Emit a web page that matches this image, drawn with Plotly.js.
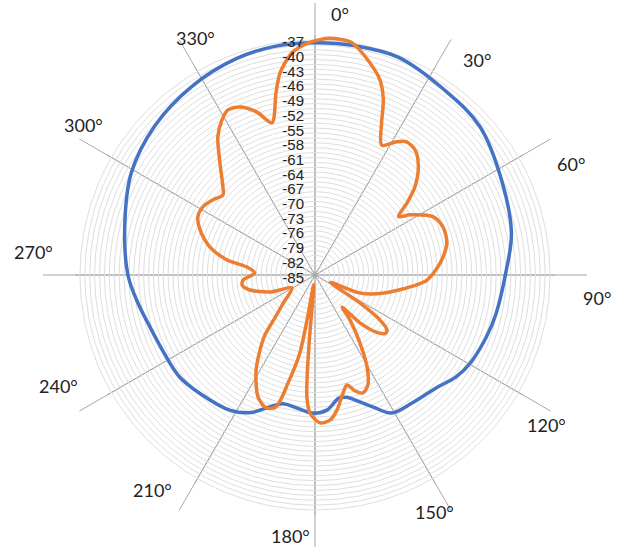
<!DOCTYPE html>
<html><head><meta charset="utf-8">
<script src="https://cdn.plot.ly/plotly-3.0.1.min.js"></script>
<style>html,body{margin:0;padding:0;background:#fff;overflow:hidden}</style>
</head><body><div id="chart" style="width:628px;height:553px"></div>
<script>
// ---- data ----
const blueTheta = [0,10,21,35,48,64,78,89,102,110,120,126,133,143,151,156,160.5,165.5,169,175,181,188,194,199,205,212,224,233,243,254,261,270,285,299,313,327,340,350,360];
const blueR = [-37.6,-37.5,-37.4,-38.9,-39.7,-42.4,-44.0,-46.0,-47.2,-47.8,-48.6,-49.5,-51.2,-52.2,-52.8,-55.4,-57.5,-59.2,-59.4,-57.3,-56.8,-57.6,-57.9,-56.5,-54.0,-52.4,-51.3,-50.4,-50.3,-49.5,-48.4,-46.8,-44.8,-42.1,-40.3,-39.0,-38.0,-37.6,-37.6];

const orangeTheta = [0,3,6,9.1,13.8,18.4,21.3,23.7,27.2,31.5,34.5,38.7,43.6,48.6,52,55,57.7,63.8,69.4,76.4,84.5,92.6,95.7,104.6,111.8,115.2,121.9,124.7,127.4,130,133,136.8,139.8,142.1,146.5,150.5,154.3,157.9,161,163.8,166.7,170.7,174.1,178.1,182.1,183.8,184.4,185,187.5,190,191,194,196.5,200.2,205,211.8,219.4,223.2,228.6,240.5,249.3,257,262.2,266,271.9,276.7,279.7,284.9,291.4,296.4,301.3,306.3,311,313.7,319.7,324.9,329,332.2,335.9,340.4,344.2,347.9,350.2,354.1,358.3,360];
const orangeR = [-37.2,-36.6,-36.6,-37.0,-39.8,-43.0,-46.6,-51.2,-55.2,-53.1,-52.0,-52.3,-54.4,-57.8,-61.2,-64.2,-62.0,-58.1,-57.1,-57.3,-59.3,-62.1,-64.3,-70.4,-75.1,-81.5,-74.2,-68.9,-66.5,-66.4,-67.9,-71.6,-76.4,-73.4,-68.4,-63.4,-60.1,-59.0,-60.0,-61.6,-60.2,-57.1,-55.2,-54.8,-56.8,-60.0,-64.0,-72.3,-83.0,-75.6,-68.8,-62.3,-56.9,-56.1,-57.5,-62.2,-68.6,-73.1,-76.4,-79.6,-75.2,-71.4,-70.0,-70.3,-72.7,-71.0,-66.8,-62.8,-59.8,-58.3,-58.2,-59.1,-60.1,-59.0,-55.0,-50.5,-48.1,-46.9,-47.4,-49.7,-52.7,-47.0,-43.1,-39.4,-37.6,-37.2];

const radialLabelVals = [-85,-82,-79,-76,-73,-70,-67,-64,-61,-58,-55,-52,-49,-46,-43,-40,-37];
const angleTicks = [0,30,60,90,120,150,180,210,240,270,300,330];
const angleLabels = ['0°','30°','60°','90°','120°','150°','180°','210°','240°','270°','300°','330°'];

// ---- layout helpers ----
const W = 628, H = 553, cx = 315, cy = 275;
const radialMin = -85, radialMax = -36;
const Rdata = 240, Rspoke = 272;
function dom(R){ return {x:[(cx-R)/W,(cx+R)/W], y:[(H-cy-R)/H,(H-cy+R)/H]}; }

const gridVals = [];
for (let v = radialMin; v <= radialMax; v++) gridVals.push(v);
const gridText = gridVals.map(v => radialLabelVals.includes(v) ? String(v) : '');

const traces = [
  {type:'scatterpolar', subplot:'polar', r:[], theta:[], mode:'lines', showlegend:false, hoverinfo:'skip'},
  {type:'scatterpolar', subplot:'polar2', r:blueR, theta:blueTheta, mode:'lines',
   line:{color:'#4472C4', width:3.5, shape:'spline', smoothing:1}, showlegend:false},
  {type:'scatterpolar', subplot:'polar2', r:orangeR, theta:orangeTheta, mode:'lines',
   line:{color:'#ED7D31', width:3.5, shape:'spline', smoothing:0.8}, showlegend:false}
];

const annotations = angleTicks.map((a,i) => {
  const t = (a + 5) * Math.PI/180;
  const px = cx + 283*Math.sin(t), py = cy - 262*Math.cos(t);
  return {text:angleLabels[i], x:px/W, y:(H-py)/H, xref:'paper', yref:'paper',
          showarrow:false, xanchor:'center', yanchor:'middle',
          font:{family:'Lato, Open Sans, sans-serif', size:18, color:'#222'}};
});

const layout = {
  width:W, height:H, margin:{l:0,r:0,t:0,b:0},
  paper_bgcolor:'#fff', showlegend:false,
  polar:{
    domain:dom(Rspoke), bgcolor:'rgba(0,0,0,0)',
    radialaxis:{visible:false, range:[0,1], showgrid:false},
    angularaxis:{rotation:90, direction:'clockwise', tickmode:'array', tickvals:angleTicks,
      showticklabels:false, ticks:'', showline:false, gridcolor:'#a8a8a8', gridwidth:1}
  },
  polar2:{
    domain:dom(Rdata), bgcolor:'rgba(0,0,0,0)',
    radialaxis:{range:[radialMin, radialMax], tickmode:'array', tickvals:gridVals, ticktext:gridText,
      angle:90, side:'counterclockwise', showline:false, ticks:'', gridcolor:'#dedede', gridwidth:1,
      tickfont:{family:'Liberation Sans Narrow, Liberation Sans, Arial, sans-serif', size:15, color:'#222'}},
    angularaxis:{rotation:90, direction:'clockwise', tickmode:'array', tickvals:angleTicks,
      showticklabels:false, ticks:'', showline:false, gridcolor:'#a8a8a8', gridwidth:1}
  },
  annotations: annotations
};

Plotly.newPlot('chart', traces, layout, {displayModeBar:false, staticPlot:true});
</script></body></html>
